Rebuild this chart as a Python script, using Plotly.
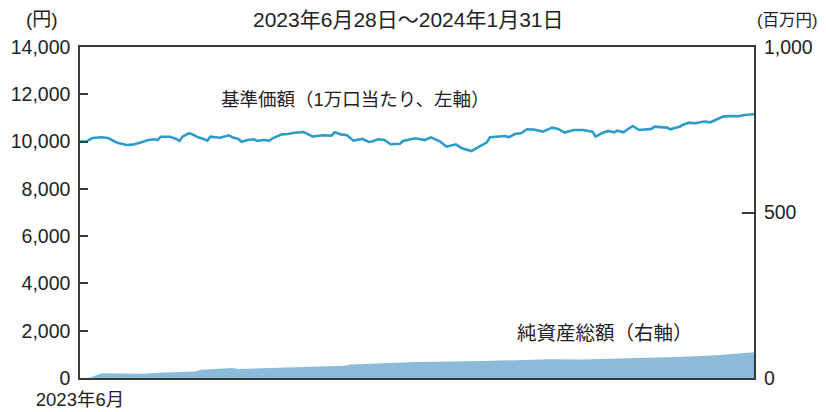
import plotly.graph_objects as go

# 基準価額（1万口当たり、円）
nav_dates = [
    "2023-06-28", "2023-06-30", "2023-07-02", "2023-07-05", "2023-07-07", "2023-07-10",
    "2023-07-13", "2023-07-15", "2023-07-18", "2023-07-20", "2023-07-22", "2023-07-23",
    "2023-07-24", "2023-07-27", "2023-07-29", "2023-07-30", "2023-07-31", "2023-08-02",
    "2023-08-03", "2023-08-05", "2023-08-07", "2023-08-08", "2023-08-09", "2023-08-11",
    "2023-08-12", "2023-08-15", "2023-08-16", "2023-08-18", "2023-08-19", "2023-08-21",
    "2023-08-23", "2023-08-24", "2023-08-26", "2023-08-28", "2023-08-29", "2023-09-01",
    "2023-09-03", "2023-09-05", "2023-09-08", "2023-09-11", "2023-09-13", "2023-09-14",
    "2023-09-17", "2023-09-18", "2023-09-20", "2023-09-22", "2023-09-24", "2023-09-27",
    "2023-09-29", "2023-09-30", "2023-10-02", "2023-10-04", "2023-10-06", "2023-10-09",
    "2023-10-10", "2023-10-13", "2023-10-14", "2023-10-17", "2023-10-19", "2023-10-22",
    "2023-10-24", "2023-10-27", "2023-10-29", "2023-11-01", "2023-11-03", "2023-11-05",
    "2023-11-06", "2023-11-07", "2023-11-10", "2023-11-12", "2023-11-13", "2023-11-15",
    "2023-11-17", "2023-11-19", "2023-11-21", "2023-11-24", "2023-11-27", "2023-11-29",
    "2023-12-01", "2023-12-04", "2023-12-07", "2023-12-09", "2023-12-10", "2023-12-11",
    "2023-12-13", "2023-12-15", "2023-12-17", "2023-12-18", "2023-12-20", "2023-12-21",
    "2023-12-23", "2023-12-25", "2023-12-27", "2023-12-29", "2023-12-30", "2024-01-02",
    "2024-01-03", "2024-01-04", "2024-01-07", "2024-01-08", "2024-01-10", "2024-01-12",
    "2024-01-15", "2024-01-17", "2024-01-19", "2024-01-21", "2024-01-24", "2024-01-26",
    "2024-01-28", "2024-01-31",
]
nav_values = [
    10000, 10000, 10150, 10180, 10150, 9950,
    9855, 9870, 9980, 10065, 10100, 10065,
    10205, 10205, 10110, 10025, 10205, 10350,
    10320, 10180, 10095, 10040, 10205, 10160,
    10160, 10265, 10180, 10110, 9995, 10065,
    10095, 10025, 10065, 10040, 10140, 10305,
    10320, 10370, 10405, 10210, 10240, 10265,
    10250, 10390, 10305, 10265, 10040, 10110,
    9985, 10000, 10095, 10065, 9885, 9910,
    10025, 10095, 10140, 10065, 10180, 9995,
    9785, 9885, 9715, 9600, 9745, 9925,
    9970, 10180, 10210, 10235, 10180, 10320,
    10350, 10520, 10510, 10420, 10590, 10535,
    10380, 10490, 10490, 10460, 10420, 10210,
    10350, 10450, 10390, 10460, 10390, 10490,
    10660, 10490, 10520, 10535, 10630, 10590,
    10590, 10520, 10630, 10700, 10800, 10775,
    10845, 10815, 10940, 11055, 11080, 11070,
    11125, 11155,
]

# 純資産総額（百万円）
aum_dates = [
    "2023-06-28", "2023-07-01", "2023-07-05", "2023-07-13", "2023-07-14", "2023-07-18",
    "2023-07-23", "2023-08-04", "2023-08-06", "2023-08-16", "2023-08-18", "2023-08-30",
    "2023-09-21", "2023-09-23", "2023-10-14", "2023-11-05", "2023-11-26", "2023-12-07",
    "2023-12-18", "2024-01-08", "2024-01-19", "2024-01-31",
]
aum_values = [
    0, 1, 14, 14, 12, 13,
    16, 20, 25, 30, 27, 31,
    37, 41, 48, 51, 57, 56,
    58, 64, 69, 78,
]

left_ticks = [0, 2000, 4000, 6000, 8000, 10000, 12000, 14000]
right_ticks = [0, 500, 1000]
title_text = "2023年6月28日～2024年1月31日"
x_label = "2023年6月"

FONT = "Liberation Sans, Arial, Noto Sans CJK JP, sans-serif"
AXIS_COLOR = "#3a3a3a"

fig = go.Figure()
fig.add_trace(go.Scatter(
    x=aum_dates, y=aum_values, yaxis="y2", mode="lines",
    line=dict(width=0, color="#8bbbd9"), fill="tozeroy", fillcolor="#8bbbd9",
    showlegend=False, hoverinfo="skip",
))
fig.add_trace(go.Scatter(
    x=nav_dates, y=nav_values, mode="lines",
    line=dict(width=2.6, color="#2f9bc9"), showlegend=False,
))

# the page body adds an 8px offset; the figure is sized to compensate
fig.update_layout(
    width=818, height=404,
    margin=dict(l=72, r=72, t=39, b=34),
    paper_bgcolor="white", plot_bgcolor="white",
    font=dict(family=FONT, size=19, color="#222222"),
    xaxis=dict(
        range=[nav_dates[0], nav_dates[-1]], type="date", automargin=False,
        showgrid=False, zeroline=False,
        showline=True, linecolor=AXIS_COLOR, linewidth=2, mirror=True,
        tickvals=[nav_dates[0]], ticktext=[x_label], ticks="",
        tickfont=dict(size=18.5), ticklabelstandoff=4,
    ),
    yaxis=dict(
        range=[0, 14000], tickvals=left_ticks, tickformat=",", automargin=False,
        showgrid=False, zeroline=False,
        showline=True, linecolor=AXIS_COLOR, linewidth=1.5,
        ticks="inside", ticklen=8, tickcolor=AXIS_COLOR, tickwidth=1.5,
        tickfont=dict(size=19.5), ticklabelstandoff=4,
    ),
    yaxis2=dict(
        range=[0, 1000], tickvals=right_ticks, tickformat=",", automargin=False,
        overlaying="y", side="right",
        showgrid=False, zeroline=False,
        showline=True, linecolor=AXIS_COLOR, linewidth=2,
        ticks="inside", ticklen=12, tickcolor=AXIS_COLOR, tickwidth=1.5,
        tickfont=dict(size=19.5), ticklabelstandoff=4,
    ),
    annotations=[
        dict(text=title_text, xref="paper", yref="paper", x=0.487, y=1.082,
             showarrow=False, xanchor="center", yanchor="middle", font=dict(size=21)),
        dict(text="(円)", xref="paper", yref="paper", x=-0.0564, y=1.082,
             showarrow=False, xanchor="center", yanchor="middle", font=dict(size=19)),
        dict(text="(百万円)", xref="paper", yref="paper", x=1.049, y=1.082,
             showarrow=False, xanchor="center", yanchor="middle", font=dict(size=16.5)),
        dict(text="基準価額（1万口当たり、左軸）", xref="paper", yref="paper", x=0.409, y=0.84,
             showarrow=False, xanchor="center", yanchor="middle", font=dict(size=18.5)),
        dict(text="純資産総額（右軸）", xref="paper", yref="paper", x=0.779, y=0.136,
             showarrow=False, xanchor="center", yanchor="middle", font=dict(size=19.5)),
    ],
)

fig.write_html("out.html")
